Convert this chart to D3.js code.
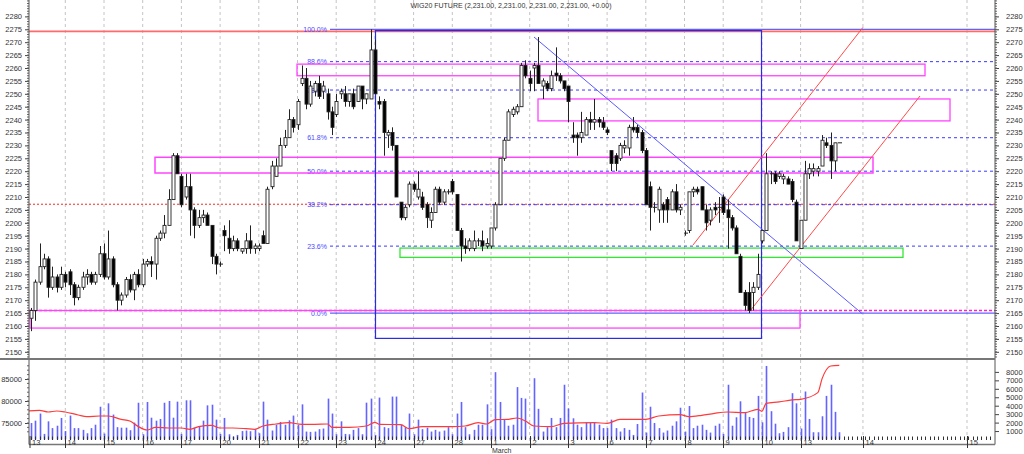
<!DOCTYPE html>
<html>
<head>
<meta charset="utf-8">
<script src="https://cdn.jsdelivr.net/npm/d3@7"></script>
<style>
  body { margin: 0; background: #fff; }
  svg { display: block; font-family: "Liberation Sans", Arial, sans-serif; }
</style>
</head>
<body>
<svg id="chart" width="1024" height="454"></svg>
<script>
// ---- data ----
var title = "WIG20 FUTURE (2,231.00, 2,231.00, 2,231.00, 2,231.00, +0.00)";

// hourly candles, 9 per session, [open, high, low, close]; bar k = index + 1
var candles = [
  // 13 Feb
  [2163,2167,2158,2166],[2166,2178,2162,2177],[2177,2192,2176,2183],[2183,2188,2182,2186],[2186,2187,2171,2175],
  [2175,2183,2174,2179],[2179,2180,2173,2175],[2175,2183,2174,2180],[2180,2181,2175,2177],
  // 14 Feb
  [2181,2182,2172,2176],[2176,2177,2168,2171],[2171,2176,2170,2175],[2175,2181,2174,2179],[2179,2182,2176,2180],
  [2180,2181,2176,2177],[2177,2181,2176,2180],[2180,2191,2179,2188],[2188,2192,2178,2179],
  // 15 Feb
  [2179,2197,2178,2186],[2186,2187,2175,2176],[2176,2177,2166,2170],[2170,2173,2168,2172],[2172,2179,2171,2178],
  [2178,2180,2173,2174],[2174,2181,2170,2180],[2180,2182,2175,2176],[2176,2186,2175,2184],
  // 16 Feb
  [2184,2186,2183,2185],[2185,2187,2179,2184],[2184,2195,2178,2194],[2194,2197,2193,2196],[2196,2203,2194,2199],
  [2199,2213,2199,2209],[2209,2227,2209,2226],[2226,2227,2219,2219],[2218,2219,2206,2207],
  // 17 Feb
  [2210,2219,2209,2214],[2214,2219,2195,2205],[2205,2206,2194,2199],[2199,2205,2198,2202],[2202,2205,2200,2203],
  [2203,2204,2199,2199],[2199,2199,2184,2187],[2187,2188,2180,2184],[2184,2185,2183,2184],
  // 20 Feb
  [2197,2199,2189,2195],[2194,2201,2188,2190],[2190,2195,2189,2193],[2193,2194,2189,2190],[2189,2190,2188,2190],
  [2190,2196,2188,2193],[2193,2199,2188,2190],[2190,2192,2188,2191],[2190,2192,2189,2191],
  // 21 Feb
  [2195,2197,2192,2192],[2192,2214,2192,2213],[2214,2224,2213,2222],[2218,2225,2218,2222],[2222,2233,2222,2230],
  [2230,2236,2229,2233],[2233,2244,2233,2240],[2240,2241,2235,2237],[2238,2248,2236,2247],
  // 22 Feb
  [2254,2261,2253,2256],[2256,2260,2244,2246],[2246,2255,2245,2253],[2251,2255,2249,2254],[2254,2257,2248,2249],
  [2251,2255,2248,2253],[2250,2252,2240,2243],[2243,2245,2234,2237],[2242,2250,2241,2247],
  // 23 Feb
  [2250,2252,2248,2251],[2250,2253,2245,2247],[2247,2250,2245,2250],[2250,2252,2244,2245],[2247,2253,2247,2253],
  [2253,2253,2244,2248],[2248,2250,2246,2250],[2248,2275,2248,2267],[2267,2271,2250,2250],
  // 24 Feb
  [2247,2249,2244,2246],[2247,2248,2226,2235],[2234,2236,2229,2235],[2235,2237,2228,2230],[2230,2230,2210,2210],
  [2208,2208,2201,2202],[2202,2207,2201,2206],[2207,2216,2206,2215],[2215,2216,2212,2213],
  // 27 Feb
  [2210,2220,2209,2213],[2210,2212,2205,2206],[2207,2208,2198,2202],[2201,2206,2198,2204],[2204,2214,2204,2213],
  [2213,2214,2207,2208],[2208,2213,2207,2212],[2212,2213,2211,2212],[2216,2217,2211,2212],
  // 28 Feb
  [2211,2211,2197,2197],[2197,2198,2185,2191],[2191,2194,2188,2190],[2190,2194,2189,2193],[2190,2197,2189,2193],
  [2193,2194,2191,2193],[2193,2197,2189,2191],[2191,2194,2190,2192],[2191,2198,2190,2198],
  // 1 Mar
  [2198,2208,2197,2207],[2207,2225,2207,2225],[2225,2233,2224,2232],[2232,2244,2232,2243],[2242,2245,2241,2244],
  [2243,2246,2242,2245],[2245,2262,2245,2261],[2261,2263,2256,2257],[2256,2259,2251,2254],
  // 2 Mar
  [2260,2262,2251,2261],[2261,2272,2254,2254],[2253,2256,2248,2255],[2254,2255,2251,2252],[2252,2259,2251,2257],
  [2258,2268,2255,2257],[2257,2258,2254,2255],[2255,2255,2251,2252],[2253,2253,2239,2247],
  // 3 Mar
  [2234,2239,2231,2233],[2234,2235,2226,2233],[2233,2243,2231,2235],[2234,2241,2234,2240],[2240,2243,2236,2239],
  [2239,2248,2236,2240],[2240,2241,2237,2239],[2239,2241,2236,2237],[2236,2237,2234,2235],
  // 6 Mar
  [2228,2228,2220,2223],[2226,2227,2220,2223],[2225,2231,2224,2230],[2229,2232,2227,2230],[2229,2238,2226,2237],
  [2237,2241,2235,2236],[2237,2238,2233,2235],[2235,2236,2227,2228],[2228,2229,2207,2207],
  // 7 Mar
  [2214,2216,2197,2206],[2206,2208,2204,2206],[2205,2214,2200,2213],[2207,2208,2200,2205],[2209,2210,2200,2205],
  [2205,2213,2205,2212],[2212,2215,2204,2205],[2205,2207,2203,2206],[2196,2197,2195,2196],
  // 8 Mar
  [2197,2212,2196,2212],[2212,2214,2210,2213],[2213,2214,2211,2212],[2214,2214,2205,2205],[2205,2207,2197,2200],
  [2201,2206,2199,2205],[2206,2208,2203,2205],[2206,2210,2200,2206],[2210,2211,2203,2204],
  // 9 Mar
  [2205,2209,2190,2202],[2202,2203,2197,2198],[2198,2199,2188,2188],[2187,2188,2173,2173],[2173,2174,2166,2168],
  [2173,2177,2165,2166],[2173,2177,2166,2175],[2175,2188,2174,2180],[2193,2197,2192,2197],
  // 10 Mar
  [2197,2227,2197,2219],[2219,2220,2215,2219],[2219,2220,2215,2216],[2218,2220,2217,2219],[2217,2219,2215,2218],
  [2217,2218,2215,2215],[2216,2217,2208,2209],[2208,2209,2193,2193],[2190,2201,2190,2201],
  // 13 Mar
  [2201,2224,2201,2219],[2219,2223,2217,2221],[2220,2223,2218,2221],[2220,2222,2218,2221],[2222,2234,2222,2232],
  [2231,2233,2229,2230],[2230,2235,2217,2224],[2224,2231,2220,2231],[2231,2231,2231,2231]
];

// volume per bar (same order as candles)
var volumes = [
  1950,2230,3070,660,2150,1350,1630,2550,1000,
  2830,1350,1350,1140,740,1350,1750,3880,700,
  4280,2950,1460,1400,1400,1100,2000,4350,620,
  4440,2580,2230,2430,4350,4560,2580,4480,660,
  4640,4640,1400,1600,2230,4040,4120,2350,660,
  2550,620,340,540,1000,1060,980,1220,740,
  4480,2350,1060,1750,2070,1750,2270,2830,1750,
  4160,940,900,940,1220,1300,4840,3070,620,
  2150,660,620,1140,1350,620,4360,4840,540,
  4960,1460,1350,5080,5080,1750,1460,3070,620,
  2350,1220,1400,940,1140,940,1060,1460,620,
  3070,4440,1460,620,1140,1750,1750,4160,1220,
  7970,4440,2350,1630,1750,6200,4920,4840,220,
  7250,3630,940,1460,2550,1460,2550,6480,3670,
  2510,1750,1460,2030,1950,2030,1750,1350,1350,
  2350,1350,940,1350,1140,540,1830,5560,820,
  3880,1950,1350,820,1060,1630,2150,3760,940,
  3960,1350,1630,1750,1140,820,1630,1870,660,
  6480,1630,2630,4520,3230,2670,2550,5160,2030,
  8700,3350,1870,740,900,1460,5480,4280,1300,
  5680,2430,860,860,2750,5160,6480,3270,860
];

// open interest line (left axis of lower panel), sampled at bar positions
var oiBar = [0,3,5,7,9,12,14,17,19,22,24,26,28,30,33,36,38,40,43,45,48,51,53,55,58,61,64,67,70,71,75,79,81,82,87,89,
  92,95,99,102,105,107,109,112,114,116,118,122,125,132,135,138,144,147,152,154,157,160,163,167,170,171,172,175,178,180,184,185,187,189];
var oiValue = [77730,77880,77500,77730,77500,76820,76440,76590,76590,75830,75450,74170,73410,74010,73860,73860,73560,74170,74470,73860,73860,73710,
  73560,74320,74770,75080,74700,74700,74770,74010,74010,74320,75150,74700,74620,73710,74170,74170,74170,74320,75080,74770,75750,75830,76140,75450,
  74320,74170,74920,75080,74920,75830,75830,76590,76900,76440,76740,77200,77500,77350,78110,77650,79480,79780,80240,80380,81900,85080,87950,88100];

// session labels on the time axis and their bar positions
var dayLabels = ["13","14","15","16","17","20","21","22","23","24","27","28","1","2","3","6","7","8","9","10","13","14","15"];
var dayBars = [0,9,18,27,36,45,54,63,72,81,90,99,108,117,126,135,144,153,162,171,180,194.5,218.7];

// drawn studies
var fibLow = 2165, fibHigh = 2275;
var fibLevels = [1, 0.886, 0.786, 0.618, 0.5, 0.382, 0.236, 0];
var fibNames = ["100.0%","88.6%","78.6%","61.8%","50.0%","38.2%","23.6%","0.0%"];
var priceTicks = d3.range(2150, 2281, 5);
var volTicks = [1000,2000,3000,4000,5000,6000,7000,8000];
var oiTicks = [75000, 80000, 85000];

// ---- scales ----
var svg = d3.select("#chart");
var L = 29, R = 995, TOP = 0, MID = 359, BOT = 444.5;

var x = d3.scaleLinear().domain([0, 180]).range([26.6, 800.6]);
var y = d3.scaleLinear().domain([2150, 2275]).range([351.8, 29.3]);
var yVol = d3.scaleLinear().domain([0, 8000]).range([439.5, 371.9]);
var yOi = d3.scaleLinear().domain([75000, 85000]).range([423, 379]);

var defs = svg.append("defs");
defs.append("clipPath").attr("id", "clipMain").append("rect")
  .attr("x", L).attr("y", TOP).attr("width", R - L).attr("height", MID - TOP);
defs.append("clipPath").attr("id", "clipVol").append("rect")
  .attr("x", L).attr("y", MID).attr("width", R - L).attr("height", BOT - MID);

// vertical session grid
var grid = svg.append("g");
dayBars.forEach(function (k, i) {
  if (i == 0) return;
  grid.append("line")
    .attr("x1", x(k)).attr("x2", x(k)).attr("y1", TOP).attr("y2", BOT)
    .attr("stroke", "#c4c4c4").attr("stroke-width", 1).attr("stroke-dasharray", "3,3");
});

// ---- main price panel ----
var main = svg.append("g").attr("clip-path", "url(#clipMain)");

// red resistance line on top and dotted reference lines
main.append("line").attr("x1", L).attr("x2", R).attr("y1", y(2274.2)).attr("y2", y(2274.2))
  .attr("stroke", "#ff6a6a").attr("stroke-width", 1.6);
main.append("line").attr("x1", L).attr("x2", R).attr("y1", y(2207.2)).attr("y2", y(2207.2))
  .attr("stroke", "#ff2020").attr("stroke-width", 1).attr("stroke-dasharray", "2,2");
main.append("line").attr("x1", L).attr("x2", R).attr("y1", y(2166)).attr("y2", y(2166))
  .attr("stroke", "#ff22cc").attr("stroke-width", 1.6).attr("stroke-dasharray", "3,2");

// fibonacci retracement
fibLevels.forEach(function (f, i) {
  var p = fibLow + f * (fibHigh - fibLow);
  var solid = (f == 1 || f == 0);
  main.append("line").attr("x1", 330).attr("x2", R).attr("y1", y(p)).attr("y2", y(p))
    .attr("stroke", "#3a3aff").attr("stroke-width", 1)
    .attr("stroke-dasharray", solid ? null : "3,3");
  main.append("text").attr("x", 327).attr("y", y(p) + 2.5)
    .attr("text-anchor", "end").attr("font-size", 7).attr("fill", "#4b4bff")
    .text(fibNames[i]);
});

// boxes
function box(x1, x2, p1, p2, color, w) {
  main.append("rect")
    .attr("x", x1).attr("y", y(p1)).attr("width", x2 - x1).attr("height", y(p2) - y(p1))
    .attr("fill", "none").attr("stroke", color).attr("stroke-width", w);
}
box(30, 800, 2166, 2159.2, "#ff44ff", 1.3);
box(155, 873, 2225.4, 2219.3, "#ff44ff", 1.5);
box(297, 925, 2261.5, 2257, "#ff44ff", 1.3);
box(538, 950, 2248, 2239.5, "#ff44ff", 1.3);
box(400, 903, 2190.2, 2186.6, "#33e633", 1.3);
box(375.5, 761.5, 2274.5, 2155.2, "#2a2ae0", 1.2);

// trend lines
main.append("line").attr("x1", 534).attr("y1", 37).attr("x2", 862).attr("y2", 313.5)
  .attr("stroke", "#5a5aff").attr("stroke-width", 1);
main.append("line").attr("x1", 693).attr("y1", 245).attr("x2", 863).attr("y2", 27.3)
  .attr("stroke", "#ff4a4a").attr("stroke-width", 1);
main.append("line").attr("x1", 750).attr("y1", 311).attr("x2", 920).attr("y2", 96)
  .attr("stroke", "#ff4a4a").attr("stroke-width", 1);

// candles
var cg = main.append("g");
candles.forEach(function (c, i) {
  var cx = Math.round(x(i + 1)) + 0.5;
  var up = c[3] >= c[0];
  cg.append("line").attr("x1", cx).attr("x2", cx).attr("y1", y(c[1])).attr("y2", y(c[2]))
    .attr("stroke", "#222").attr("stroke-width", 1);
  var top = y(Math.max(c[0], c[3])), bot = y(Math.min(c[0], c[3]));
  if (bot - top < 1) {
    cg.append("line").attr("x1", cx - 1.5).attr("x2", cx + 2.5).attr("y1", top).attr("y2", top)
      .attr("stroke", "#222").attr("stroke-width", 1);
  } else {
    cg.append("rect").attr("x", cx - 1.5).attr("y", top).attr("width", 3).attr("height", bot - top)
      .attr("fill", up ? "#fff" : "#000").attr("stroke", "#222").attr("stroke-width", 0.9);
  }
});

// title
svg.append("text").attr("x", 511).attr("y", 8).attr("text-anchor", "middle")
  .attr("font-size", 7).attr("fill", "#333").text(title);

// ---- price axes ----
var axisL = svg.append("g").attr("transform", "translate(" + L + ",0)")
  .call(d3.axisLeft(y).tickValues(priceTicks).tickSize(4).tickPadding(3).tickFormat(d3.format("d")));
var axisR = svg.append("g").attr("transform", "translate(" + R + ",0)")
  .call(d3.axisRight(y).tickValues(priceTicks).tickSize(4).tickPadding(7).tickFormat(d3.format("d")));
[axisL, axisR].forEach(function (a) {
  a.select(".domain").remove();
  a.selectAll("text").attr("font-size", 7.5).attr("fill", "#333");
  a.selectAll("line").attr("stroke", "#444");
});
var minor = d3.range(2148, 2287, 1);
minor.forEach(function (p) {
  svg.append("line").attr("x1", L - 2).attr("x2", L).attr("y1", y(p)).attr("y2", y(p)).attr("stroke", "#666");
  svg.append("line").attr("x1", R).attr("x2", R + 2).attr("y1", y(p)).attr("y2", y(p)).attr("stroke", "#666");
});

// ---- volume panel ----
var vol = svg.append("g").attr("clip-path", "url(#clipVol)");
volumes.forEach(function (v, i) {
  var vx = Math.round(x(i + 1));
  vol.append("rect").attr("x", vx - 0.3).attr("y", yVol(v)).attr("width", 1.6).attr("height", yVol(0) - yVol(v))
    .attr("fill", "#4848ff").attr("opacity", 0.85);
});
var oiLine = d3.line()
  .x(function (d, i) { return x(oiBar[i]); })
  .y(function (d) { return yOi(d); })
  .curve(d3.curveMonotoneX);
vol.append("path").datum(oiValue).attr("d", oiLine)
  .attr("fill", "none").attr("stroke", "#ff3a3a").attr("stroke-width", 1.2);

// small bar ticks on the time axis (past and future slots)
d3.range(1, 226).forEach(function (k) {
  var tx = Math.round(x(k)) + 0.5;
  if (tx > R - 2) return;
  svg.append("line").attr("x1", tx).attr("x2", tx).attr("y1", 436.5).attr("y2", 440)
    .attr("stroke", "#333").attr("stroke-width", 1);
});

var axisV = svg.append("g").attr("transform", "translate(" + R + ",0)")
  .call(d3.axisRight(yVol).tickValues(volTicks).tickSize(4).tickPadding(7).tickFormat(d3.format("d")));
var axisO = svg.append("g").attr("transform", "translate(" + L + ",0)")
  .call(d3.axisLeft(yOi).tickValues(oiTicks).tickSize(4).tickPadding(3).tickFormat(d3.format("d")));
[axisV, axisO].forEach(function (a) {
  a.select(".domain").remove();
  a.selectAll("text").attr("font-size", 7.5).attr("fill", "#333");
  a.selectAll("line").attr("stroke", "#444");
});
d3.range(73000, 88001, 1000).forEach(function (v) {
  svg.append("line").attr("x1", L - 2).attr("x2", L).attr("y1", yOi(v)).attr("y2", yOi(v)).attr("stroke", "#666");
});

// frame lines
svg.append("line").attr("x1", L).attr("x2", L).attr("y1", TOP).attr("y2", BOT).attr("stroke", "#555");
svg.append("line").attr("x1", R).attr("x2", R).attr("y1", TOP).attr("y2", BOT).attr("stroke", "#555");
svg.append("line").attr("x1", 0).attr("x2", R).attr("y1", MID).attr("y2", MID).attr("stroke", "#777").attr("stroke-width", 2);
svg.append("line").attr("x1", L).attr("x2", R).attr("y1", BOT).attr("y2", BOT).attr("stroke", "#777").attr("stroke-width", 1.5);

// date labels
dayBars.forEach(function (k, i) {
  var tx = Math.round(x(k)) + 0.5;
  if (tx < L) tx = L + 1;
  svg.append("line").attr("x1", tx).attr("x2", tx).attr("y1", 436).attr("y2", 448).attr("stroke", "#333");
  svg.append("text").attr("x", tx + 2).attr("y", 445).attr("font-size", 7.5).attr("fill", "#333").text(dayLabels[i]);
});
svg.append("text").attr("x", x(108) + 1).attr("y", 453).attr("font-size", 7).attr("fill", "#333").text("March");
</script>
</body>
</html>
